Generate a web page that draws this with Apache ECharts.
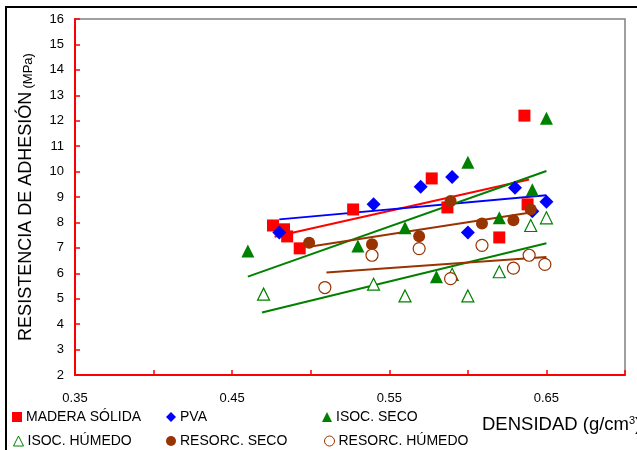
<!DOCTYPE html>
<html>
<head>
<meta charset="utf-8">
<script src="https://cdn.jsdelivr.net/npm/echarts@6/dist/echarts.min.js"></script>
<style>
  html, body { margin: 0; padding: 0; background: #fff; }
  #chart { width: 637px; height: 450px; }
</style>
</head>
<body>
<div id="chart"></div>
<script>
// valores (densidad g/cm3, resistencia MPa)
const maderaX = [0.476, 0.483, 0.485, 0.493, 0.527, 0.577, 0.587, 0.620, 0.638, 0.636];
const maderaY = [7.88, 7.73, 7.45, 6.98, 8.51, 9.73, 8.59, 7.41, 8.71, 12.2];
const pvaX = [0.480, 0.540, 0.570, 0.590, 0.600, 0.630, 0.641, 0.650];
const pvaY = [7.60, 8.71, 9.40, 9.79, 7.60, 9.36, 8.44, 8.81];
const isoSecoX = [0.460, 0.530, 0.560, 0.580, 0.600, 0.620, 0.641, 0.650];
const isoSecoY = [6.88, 7.07, 7.79, 5.86, 10.37, 8.18, 9.29, 12.1];
const isoHumX = [0.470, 0.540, 0.560, 0.590, 0.600, 0.620, 0.640, 0.650];
const isoHumY = [5.18, 5.57, 5.11, 5.96, 5.11, 6.06, 7.88, 8.18];
const resSecoX = [0.499, 0.539, 0.569, 0.589, 0.609, 0.629, 0.640];
const resSecoY = [7.20, 7.14, 7.46, 8.84, 7.96, 8.09, 8.51];
const resHumX = [0.509, 0.539, 0.569, 0.589, 0.609, 0.629, 0.639, 0.649];
const resHumY = [5.44, 6.71, 6.97, 5.79, 7.10, 6.20, 6.71, 6.35];

// lineas de tendencia (extremos)
const maderaTrendX = [0.477, 0.639];
const maderaTrendY = [7.44, 9.69];
const pvaTrendX = [0.480, 0.650];
const pvaTrendY = [8.12, 9.07];
const isoSecoTrendX = [0.460, 0.650];
const isoSecoTrendY = [5.87, 10.02];
const isoHumTrendX = [0.469, 0.650];
const isoHumTrendY = [4.46, 7.18];
const resSecoTrendX = [0.499, 0.639];
const resSecoTrendY = [7.04, 8.38];
const resHumTrendX = [0.510, 0.650];
const resHumTrendY = [6.03, 6.64];

const xLabels = ['0.35', '0.45', '0.55', '0.65'];

const FONT = 'Liberation Sans, Arial, sans-serif';
const RED = '#ff0000', BLUE = '#0000ff', GREEN = '#008000', BROWN = '#993300';

function pairs(xs, ys) {
    return xs.map((x, i) => [x, ys[i]]);
}

function scatter(name, xs, ys, symbol, size, color, hollow) {
    return {
        name: name,
        type: 'scatter',
        symbol: symbol,
        symbolSize: size,
        z: 5,
        itemStyle: hollow
            ? { color: '#fff', borderColor: color, borderWidth: 1.2, opacity: 1 }
            : { color: color, opacity: 1 },
        data: pairs(xs, ys)
    };
}

function trend(xs, ys, color) {
    return {
        type: 'line',
        showSymbol: false,
        symbol: 'none',
        silent: true,
        z: 3,
        lineStyle: { color: color, width: 2 },
        data: pairs(xs, ys)
    };
}

function legendAt(name, left, top) {
    return {
        data: [name],
        left: left,
        top: top,
        padding: 0,
        itemWidth: 10,
        itemHeight: 10,
        itemGap: 0,
        selectedMode: false,
        itemStyle: { borderWidth: 1 },
        textStyle: { fontFamily: FONT, fontSize: 14, color: '#000', padding: [0, 0, 0, -1] }
    };
}

const chart = echarts.init(document.getElementById('chart'));

chart.setOption({
    animation: false,
    backgroundColor: '#fff',
    grid: {
        left: 75, top: 19, right: 12, bottom: 75,
        show: true, borderColor: '#808080', borderWidth: 1.5, backgroundColor: 'transparent'
    },
    legend: [
        legendAt('MADERA SÓLIDA', 12, 410),
        legendAt('PVA', 166, 410),
        legendAt('ISOC. SECO', 322, 410),
        legendAt('ISOC. HÚMEDO', 13, 434),
        legendAt('RESORC. SECO', 166, 434),
        legendAt('RESORC. HÚMEDO', 324, 434)
    ],
    xAxis: {
        type: 'value',
        min: 0.35,
        max: 0.70,
        interval: 0.05,
        splitLine: { show: false },
        axisLine: { onZero: false, lineStyle: { color: RED, width: 2 } },
        axisTick: { inside: true, length: 5, lineStyle: { color: RED, width: 1.5 } },
        axisLabel: {
            margin: 17,
            fontFamily: FONT,
            fontSize: 13,
            color: '#000',
            formatter: function (v) {
                const s = v.toFixed(2);
                return xLabels.indexOf(s) >= 0 ? s : '';
            }
        }
    },
    yAxis: {
        type: 'value',
        min: 2,
        max: 16,
        interval: 1,
        splitLine: { show: false },
        axisLine: { show: true, onZero: false, lineStyle: { color: RED, width: 2 } },
        axisTick: { show: true, inside: true, length: 5, lineStyle: { color: RED, width: 1.5 } },
        axisLabel: { margin: 11, fontFamily: FONT, fontSize: 13, color: '#000' },
        name: '{a|RESISTENCIA DE ADHESIÓN} {b|(MPa)}',
        nameLocation: 'middle',
        nameRotate: 90,
        nameGap: 40,
        nameTextStyle: {
            fontFamily: FONT,
            color: '#000',
            rich: {
                a: { fontFamily: FONT, fontSize: 18, color: '#000', verticalAlign: 'bottom' },
                b: { fontFamily: FONT, fontSize: 13, color: '#000', verticalAlign: 'bottom' }
            }
        }
    },
    graphic: [
        {
            type: 'rect',
            silent: true,
            shape: { x: 6, y: 7, width: 700, height: 500 },
            style: { fill: 'none', stroke: '#000', lineWidth: 2 }
        },
        {
            type: 'text',
            left: 482,
            top: 415,
            style: {
                text: '{a|DENSIDAD (g/cm}{s|3}{a|)}',
                fill: '#000',
                rich: {
                    a: { fontFamily: FONT, fontSize: 18.5, fill: '#000', verticalAlign: 'bottom' },
                    s: { fontFamily: FONT, fontSize: 11, fill: '#000', verticalAlign: 'top' }
                }
            }
        }
    ],
    series: [
        trend(maderaTrendX, maderaTrendY, RED),
        trend(pvaTrendX, pvaTrendY, BLUE),
        trend(isoSecoTrendX, isoSecoTrendY, GREEN),
        trend(isoHumTrendX, isoHumTrendY, GREEN),
        trend(resSecoTrendX, resSecoTrendY, BROWN),
        trend(resHumTrendX, resHumTrendY, BROWN),
        scatter('MADERA SÓLIDA', maderaX, maderaY, 'rect', 12, RED, false),
        scatter('PVA', pvaX, pvaY, 'diamond', 14, BLUE, false),
        scatter('ISOC. SECO', isoSecoX, isoSecoY, 'triangle', 13, GREEN, false),
        scatter('ISOC. HÚMEDO', isoHumX, isoHumY, 'triangle', 12, GREEN, true),
        scatter('RESORC. SECO', resSecoX, resSecoY, 'circle', 12, BROWN, false),
        scatter('RESORC. HÚMEDO', resHumX, resHumY, 'circle', 12, BROWN, true)
    ]
});
</script>
</body>
</html>
